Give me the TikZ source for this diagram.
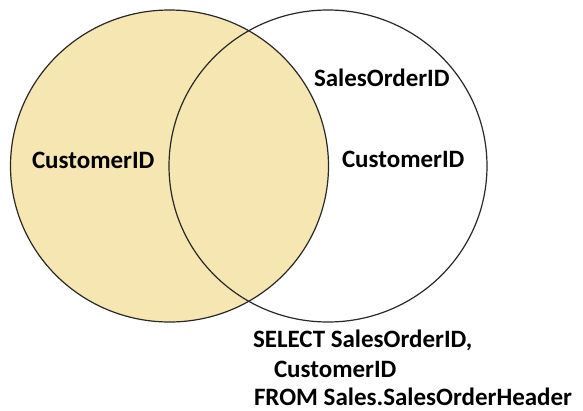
\documentclass[tikz,border=0pt]{standalone}
\usepackage{fontspec}
\setmainfont{Carlito}
\usetikzlibrary{shapes.geometric}
\definecolor{tanfill}{RGB}{245,230,178}
\definecolor{edge}{RGB}{40,40,40}
\tikzset{
  setshape/.style={ellipse, draw=edge, line width=1.2pt, minimum width=318pt, minimum height=312pt, inner sep=0pt},
  lbl/.style={anchor=base west, inner sep=0pt, outer sep=0pt, font=\fontsize{25}{30}\selectfont\bfseries, text=black}
}
\begin{document}
\begin{tikzpicture}[x=1pt,y=-1pt]
\useasboundingbox (0,0) rectangle (583,410);
\node[setshape, fill=tanfill] (A) at (169.5,166) {};
\node[setshape] (B) at (328,166) {};
\node[lbl] (a1) at (32,168) {CustomerID};
\node[lbl] (b1) at (314,86) {SalesOrderID};
\node[lbl] (b2) at (342,167) {CustomerID};
\node[lbl] (q1) at (253,347) {SELECT SalesOrderID,};
\node[lbl] (q2) at (274,377) {CustomerID};
\node[lbl] (q3) at (254,405) {FROM Sales.SalesOrderHeader};
\end{tikzpicture}
\end{document}
